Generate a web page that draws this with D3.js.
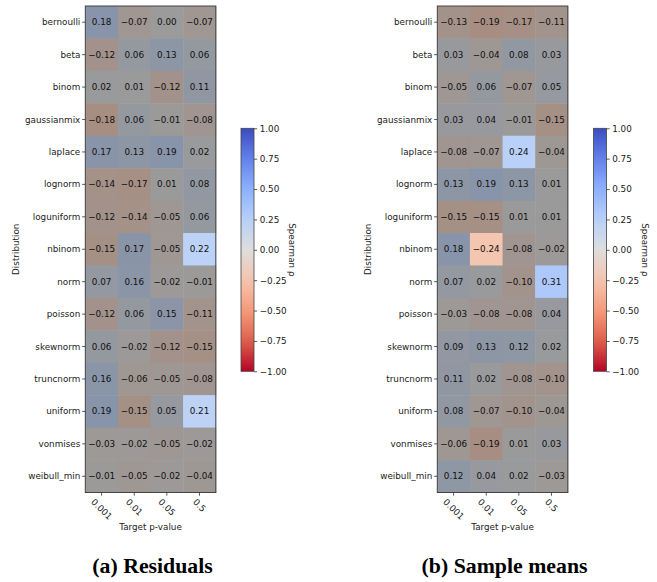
<!DOCTYPE html>
<html>
<head>
<meta charset="utf-8">
<script src="https://cdn.jsdelivr.net/npm/d3@7"></script>
<style>
  body { margin: 0; background: #fff; }
  text { font-family: "DejaVu Sans", sans-serif; fill: #222; }
</style>
</head>
<body>
<svg id="fig" width="657" height="582"></svg>
<script>
const distributions = ['bernoulli', 'beta', 'binom', 'gaussianmix', 'laplace', 'lognorm', 'loguniform',
  'nbinom', 'norm', 'poisson', 'skewnorm', 'truncnorm', 'uniform', 'vonmises', 'weibull_min'];
const pValues = ['0.001', '0.01', '0.05', '0.5'];

// rows follow distributions, columns follow pValues
const residuals = [
  [0.18, -0.07, 0.00, -0.07],
  [-0.12, 0.06, 0.13, 0.06],
  [0.02, 0.01, -0.12, 0.11],
  [-0.18, 0.06, -0.01, -0.08],
  [0.17, 0.13, 0.19, 0.02],
  [-0.14, -0.17, 0.01, 0.08],
  [-0.12, -0.14, -0.05, 0.06],
  [-0.15, 0.17, -0.05, 0.22],
  [0.07, 0.16, -0.02, -0.01],
  [-0.12, 0.06, 0.15, -0.11],
  [0.06, -0.02, -0.12, -0.15],
  [0.16, -0.06, -0.05, -0.08],
  [0.19, -0.15, 0.05, 0.21],
  [-0.03, -0.02, -0.05, -0.02],
  [-0.01, -0.05, -0.02, -0.04]
];
const sampleMeans = [
  [-0.13, -0.19, -0.17, -0.11],
  [0.03, -0.04, 0.08, 0.03],
  [-0.05, 0.06, -0.07, 0.05],
  [0.03, 0.04, -0.01, -0.15],
  [-0.08, -0.07, 0.24, -0.04],
  [0.13, 0.19, 0.13, 0.01],
  [-0.15, -0.15, 0.01, 0.01],
  [0.18, -0.24, -0.08, -0.02],
  [0.07, 0.02, -0.10, 0.31],
  [-0.03, -0.08, -0.08, 0.04],
  [0.09, 0.13, 0.12, 0.02],
  [0.11, 0.02, -0.08, -0.10],
  [0.08, -0.07, -0.10, -0.04],
  [-0.06, -0.19, 0.01, 0.03],
  [0.12, 0.04, 0.02, -0.03]
];
const colorbarTicks = [1, 0.75, 0.5, 0.25, 0, -0.25, -0.5, -0.75, -1];
const captions = ['(a) Residuals', '(b) Sample means'];
const highlightAbove = 0.2; // cells with |rho| above this keep full colour

const svg = d3.select('#fig');

// coolwarm reversed: red at -1, blue at +1
const color = d3.scaleLinear()
  .domain([-1, -0.75, -0.5, -0.25, 0, 0.25, 0.5, 0.75, 1])
  .range(['#b40426', '#de604d', '#f49a7b', '#f5c4ad', '#dddddd', '#b8d0f9', '#8db0fe', '#6282ea', '#3b4cc0'])
  .interpolate(d3.interpolateRgb);

const fmt = d3.format('.2f');
const minus = (s) => s.replace('-', '\u2212');

const defs = svg.append('defs');
const grad = defs.append('linearGradient')
  .attr('id', 'cbgrad')
  .attr('x1', 0).attr('y1', 1).attr('x2', 0).attr('y2', 0);
d3.range(0, 1.0001, 0.05).forEach((t) => {
  grad.append('stop').attr('offset', t).attr('stop-color', color(-1 + 2 * t));
});

const heatTop = 6, heatBottom = 492.5;

function drawPanel(values, caption, left, cbLeft) {
  const right = left + 130.5;
  const g = svg.append('g');

  const x = d3.scaleBand().domain(pValues).range([left, right]);
  const y = d3.scaleBand().domain(distributions).range([heatTop, heatBottom]);

  const cells = [];
  values.forEach((row, i) => row.forEach((v, j) => cells.push({ d: distributions[i], p: pValues[j], v })));

  g.selectAll('rect.cell')
    .data(cells)
    .enter()
    .append('rect')
    .attr('class', 'cell')
    .attr('x', (c) => x(c.p))
    .attr('y', (c) => y(c.d))
    .attr('width', x.bandwidth() + 0.5)
    .attr('height', y.bandwidth() + 0.5)
    .attr('fill', (c) => Math.abs(c.v) > highlightAbove ? color(c.v) : d3.interpolateRgb(color(c.v), '#000')(0.3));

  g.selectAll('text.annot')
    .data(cells)
    .enter()
    .append('text')
    .attr('class', 'annot')
    .attr('x', (c) => x(c.p) + x.bandwidth() / 2)
    .attr('y', (c) => y(c.d) + y.bandwidth() / 2)
    .attr('text-anchor', 'middle')
    .attr('dominant-baseline', 'central')
    .style('font-size', '8.8px')
    .style('fill', '#111')
    .text((c) => fmt(c.v));

  // frame
  g.append('rect')
    .attr('x', left).attr('y', heatTop)
    .attr('width', right - left).attr('height', heatBottom - heatTop)
    .attr('fill', 'none').attr('stroke', '#444').attr('stroke-width', 1);

  // y axis
  distributions.forEach((d) => {
    const cy = y(d) + y.bandwidth() / 2;
    g.append('line').attr('x1', left - 3.2).attr('x2', left).attr('y1', cy).attr('y2', cy)
      .attr('stroke', '#333').attr('stroke-width', 0.8);
    g.append('text').attr('x', left - 5).attr('y', cy)
      .attr('text-anchor', 'end').attr('dominant-baseline', 'central')
      .style('font-size', '8.8px').text(d);
  });

  // x axis with rotated labels
  pValues.forEach((p) => {
    const cx = x(p) + x.bandwidth() / 2;
    g.append('line').attr('x1', cx).attr('x2', cx).attr('y1', heatBottom).attr('y2', heatBottom + 3.2)
      .attr('stroke', '#333').attr('stroke-width', 0.8);
    const t = g.append('text')
      .attr('text-anchor', 'middle').attr('dominant-baseline', 'central')
      .style('font-size', '8.8px').text(p);
    const w = t.node().getComputedTextLength();
    const half = (w + 8) * Math.SQRT1_2 / 2;
    t.attr('transform', `translate(${cx},${heatBottom + 5 + half}) rotate(45)`);
  });

  g.append('text')
    .attr('x', (left + right) / 2).attr('y', 527)
    .attr('text-anchor', 'middle').attr('dominant-baseline', 'central')
    .style('font-size', '8.8px').text('Target p-value');

  g.append('text')
    .attr('transform', `translate(${left - 69},${(heatTop + heatBottom) / 2}) rotate(-90)`)
    .attr('text-anchor', 'middle').attr('dominant-baseline', 'central')
    .style('font-size', '8.8px').text('Distribution');

  // colorbar
  const cbTop = 128.3, cbBottom = 371.3, cbW = 13;
  const cy = d3.scaleLinear().domain([-1, 1]).range([cbBottom, cbTop]);
  g.append('rect')
    .attr('x', cbLeft).attr('y', cbTop).attr('width', cbW).attr('height', cbBottom - cbTop)
    .attr('fill', 'url(#cbgrad)').attr('stroke', '#444').attr('stroke-width', 0.8);
  const cbAxis = g.append('g')
    .attr('transform', `translate(${cbLeft + cbW},0)`)
    .call(d3.axisRight(cy).tickValues(colorbarTicks).tickSize(3.2).tickPadding(2.5).tickFormat((v) => minus(fmt(v))));
  cbAxis.select('.domain').remove();
  cbAxis.selectAll('line').attr('stroke', '#333').attr('stroke-width', 0.8);
  cbAxis.selectAll('text').style('font-size', '8.8px').style('font-family', '"DejaVu Sans", sans-serif').attr('fill', '#222');

  g.append('text')
    .attr('transform', `translate(${cbLeft + cbW + 38},${(cbTop + cbBottom) / 2}) rotate(90)`)
    .attr('text-anchor', 'middle').attr('dominant-baseline', 'central')
    .style('font-size', '8.8px').text('Spearman \u03c1');

  svg.append('text')
    .attr('x', (left + right) / 2 + 2).attr('y', 573)
    .attr('text-anchor', 'middle')
    .style('font-family', '"Liberation Serif", serif')
    .style('font-weight', 'bold')
    .style('font-size', '21.8px')
    .style('fill', '#000')
    .text(caption);
}

drawPanel(residuals, captions[0], 85.3, 241);
drawPanel(sampleMeans, captions[1], 437.3, 593.5);
</script>
</body>
</html>
